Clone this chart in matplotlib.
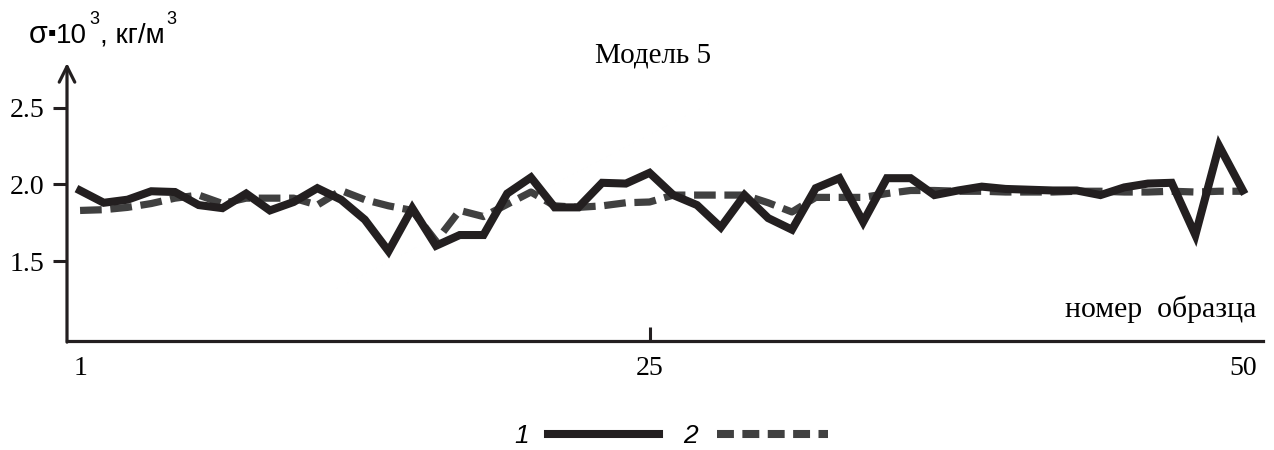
import numpy as np
import matplotlib
matplotlib.use("Agg")
import matplotlib.pyplot as plt
from matplotlib.lines import Line2D

# номер образца
nomer = np.arange(1, 51)

# кривая 1 (сплошная)
sigma_1 = [1.96, 1.88, 1.90, 1.955, 1.95, 1.865, 1.845, 1.94, 1.83, 1.885,
           1.975, 1.90, 1.77, 1.565, 1.845, 1.60, 1.67, 1.67, 1.94, 2.045,
           1.85, 1.85, 2.01, 2.005, 2.075, 1.93, 1.865, 1.72, 1.93, 1.78,
           1.705, 1.975, 2.04, 1.755, 2.04, 2.04, 1.93, 1.96, 1.985, 1.97,
           1.965, 1.96, 1.96, 1.93, 1.98, 2.005, 2.01, 1.67, 2.25, 1.96]

# кривая 2 (штриховая)
sigma_2 = [1.83, 1.835, 1.85, 1.875, 1.91, 1.93, 1.875, 1.91, 1.91, 1.91,
           1.865, 1.96, 1.90, 1.86, 1.83, 1.63, 1.83, 1.79, 1.87, 1.95,
           1.86, 1.85, 1.86, 1.88, 1.885, 1.93, 1.93, 1.93, 1.93, 1.88,
           1.82, 1.915, 1.915, 1.915, 1.94, 1.96, 1.96, 1.955, 1.955, 1.95,
           1.95, 1.95, 1.955, 1.955, 1.95, 1.95, 1.955, 1.95, 1.955, 1.955]

x_ticks = [1, 25, 50]
y_ticks = [1.5, 2.0, 2.5]

W, H = 1274, 450
serif = "Liberation Serif"
sans = ["Liberation Sans", "DejaVu Sans"]
ink = "#231f20"
grey = "#404040"

fig = plt.figure(figsize=(W / 100, H / 100), dpi=100)
ax = fig.add_axes([67 / W, 1 - 341 / H, (1263 - 67) / W, (341 - 63) / H])

ax.plot(nomer, sigma_2, color=grey, lw=5.2, dashes=(3.0, 1.2),
        dash_capstyle="butt", zorder=2)
ax.plot(nomer, sigma_1, color=ink, lw=5.8, solid_joinstyle="miter", zorder=3)

ax.set_xlim(0.45, 50.85)
ax.set_ylim(0.98, 2.79)

for s in ["top", "right", "left"]:
    ax.spines[s].set_visible(False)
ax.spines["bottom"].set_linewidth(2.3)
ax.spines["bottom"].set_color(ink)

# ось Y со стрелкой
ax.annotate("", xy=(0, 1), xycoords="axes fraction", xytext=(0, -0.004),
            arrowprops=dict(arrowstyle="->", lw=2.3, color=ink,
                            mutation_scale=28, shrinkA=0, shrinkB=0))

ax.set_yticks(y_ticks)
ax.set_yticklabels([f"{v:.1f}" for v in y_ticks], fontfamily=serif, fontsize=20)
ax.tick_params(axis="y", direction="out", length=10, width=2.2, color=ink, pad=6)

ax.set_xticks(x_ticks)
ax.set_xticklabels([str(v) for v in x_ticks], fontfamily=serif, fontsize=20)
ax.tick_params(axis="x", direction="in", length=10, width=2.2, color=ink, pad=11)
ticks = ax.xaxis.get_major_ticks()
ticks[0].tick1line.set_visible(False)
ticks[2].tick1line.set_visible(False)


def px_text(x, y, s, **kw):
    return fig.text(x / W, 1 - y / H, s, va="baseline", **kw)


px_text(653, 63, "Модель 5", ha="center", fontfamily=serif, fontsize=21)
px_text(1256, 317, "номер  образца", ha="right", fontfamily=serif, fontsize=21.5)

# подпись оси Y
renderer = fig.canvas.get_renderer()
label_parts = [("σ", 43, 22, 0), ("▪", 39, 17, 0), ("10", 43, 20, 2),
               ("3", 24, 13, 1), (", кг/м", 43, 20, 2), ("3", 24, 13, 0)]
x = 29
for txt, base, size, gap in label_parts:
    t = px_text(x, base, txt, family=sans, fontsize=size)
    x = t.get_window_extent(renderer).x1 + gap

handles = [Line2D([], [], color=ink, lw=5.8),
           Line2D([], [], color=grey, lw=5.8, dashes=(2.1, 1.05),
                  dash_capstyle="butt")]
fig.legend(handles, ["1", "2"], loc="center", bbox_to_anchor=(671 / W, 1 - 436 / H),
           ncol=2, frameon=False, markerfirst=False, handlelength=4.2,
           handletextpad=0.75, columnspacing=0.9,
           prop=dict(family=sans, style="italic", size=19))

fig.savefig("out.png", dpi=100)
